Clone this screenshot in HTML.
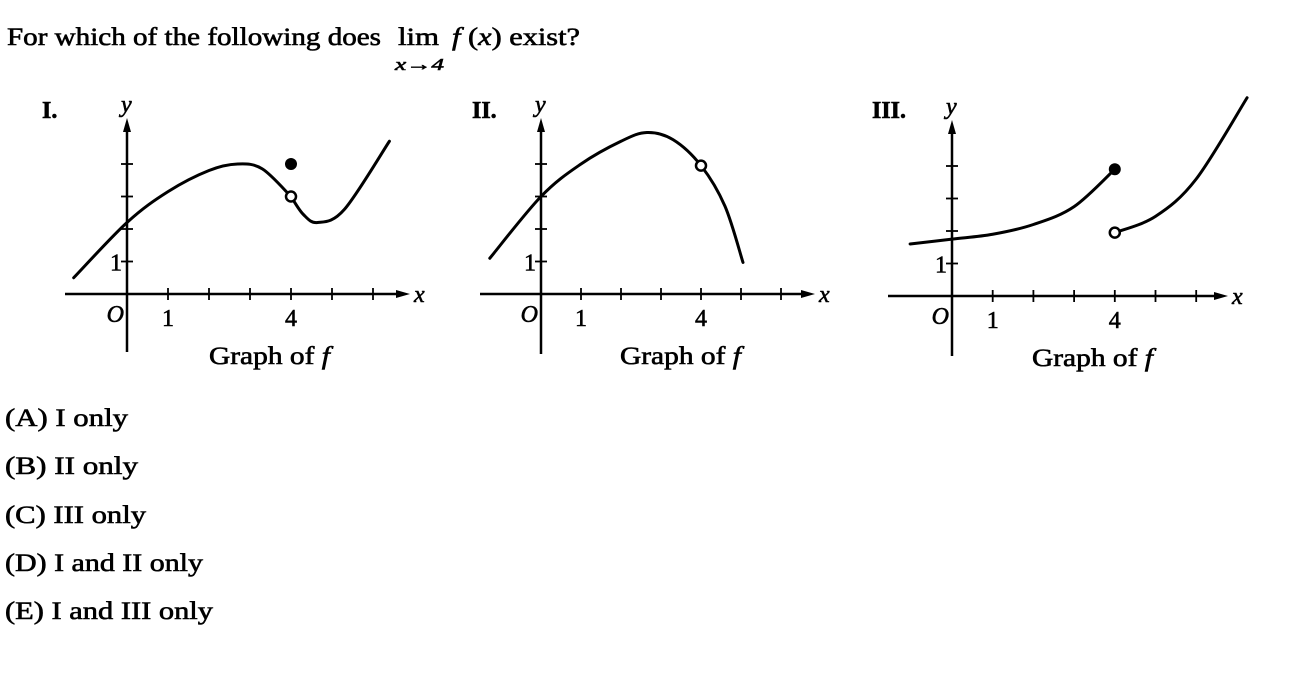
<!DOCTYPE html>
<html><head><meta charset="utf-8"><style>
html,body{margin:0;padding:0;background:#fff}
svg{display:block}
text{font-family:"Liberation Serif",serif;fill:#000;stroke:#000;stroke-width:0.6}
</style></head><body>
<svg id="s" width="1303" height="691" viewBox="0 0 1303 691">
<text x="7" y="45" font-size="25" textLength="374" lengthAdjust="spacingAndGlyphs">For which of the following does</text>
<text x="398" y="45" font-size="25" textLength="41" lengthAdjust="spacingAndGlyphs">lim</text>
<text x="395" y="70" font-size="17" font-style="italic" textLength="49" lengthAdjust="spacingAndGlyphs">x→4</text>
<text x="452" y="45" font-size="25" textLength="128" lengthAdjust="spacingAndGlyphs"><tspan font-style="italic">f</tspan> (<tspan font-style="italic">x</tspan>) exist?</text>
<g id="choices">
<text x="5" y="426" font-size="25" textLength="123" lengthAdjust="spacingAndGlyphs">(A)  I only</text>
<text x="5" y="474" font-size="25" textLength="133" lengthAdjust="spacingAndGlyphs">(B)  II only</text>
<text x="5" y="523" font-size="25" textLength="141" lengthAdjust="spacingAndGlyphs">(C)  III only</text>
<text x="5" y="571" font-size="25" textLength="198" lengthAdjust="spacingAndGlyphs">(D)  I and II only</text>
<text x="5" y="619" font-size="25" textLength="208" lengthAdjust="spacingAndGlyphs">(E)  I and III only</text>
</g>
</svg>
<script>
// Graph I data (x, y in graph units)
const curveI = [[-1.3,0.5],[0,2.2],[1,3.15],[2,3.8],[2.7,4.0],[3.3,3.85],[4,3.0]];
const curveI2 = [[4,3.0],[4.3,2.45],[4.65,2.2],[5.3,2.6],[6.4,4.7]];
const holesI = [[4,3.0]];
const dotsI = [[4,4.0]];
// Graph II data
const curveII = [[-1.28,1.1],[0,3.0],[1,4.0],[2,4.7],[2.65,4.97],[3.3,4.75],[4,3.95],[4.6,2.7],[5.05,0.97]];
const holesII = [[4,3.95]];
const dotsII = [];
// Graph III data
const curveIII = [[-1.03,1.6],[0,1.75],[1,1.9],[2,2.2],[3,2.75],[4,3.9]];
const curveIII2 = [[4,1.95],[5,2.45],[6,3.6],[7.25,6.1]];
const holesIII = [[4,1.95]];
const dotsIII = [[4,3.9]];
const xTickLabels = ["1","4"];
const xTickValues = [1,4];

const svg = document.getElementById('s');
const NS = 'http://www.w3.org/2000/svg';
function mk(tag, attrs, parent){const e=document.createElementNS(NS,tag);for(const k in attrs)e.setAttribute(k,attrs[k]);(parent||svg).appendChild(e);return e;}

const graphs = [
 {name:'graph-i', ox:127, oy:294, ux:41, uy:32.5, xl:65, xr:410, yt:118, yb:352, curves:[curveI,curveI2], holes:holesI, dots:dotsI, roman:'I.', rx:42, lx:209},
 {name:'graph-ii', ox:541, oy:294, ux:40, uy:32.5, xl:480, xr:815, yt:118, yb:354, curves:[curveII], holes:holesII, dots:dotsII, roman:'II.', rx:472, lx:620},
 {name:'graph-iii', ox:952, oy:296, ux:40.7, uy:32.5, xl:888, xr:1228, yt:120, yb:356, curves:[curveIII,curveIII2], holes:holesIII, dots:dotsIII, roman:'III.', rx:872, lx:1032}
];

function pathFor(pts, sx, sy){
  const P = pts.map(p=>[sx(p[0]), sy(p[1])]);
  let d = 'M'+P[0][0]+','+P[0][1];
  for(let i=0;i<P.length-1;i++){
    const p0=P[i-1]||P[i], p1=P[i], p2=P[i+1], p3=P[i+2]||P[i+1];
    const c1=[p1[0]+(p2[0]-p0[0])/6, p1[1]+(p2[1]-p0[1])/6];
    const c2=[p2[0]-(p3[0]-p1[0])/6, p2[1]-(p3[1]-p1[1])/6];
    d+=' C'+c1[0]+','+c1[1]+' '+c2[0]+','+c2[1]+' '+p2[0]+','+p2[1];
  }
  return d;
}

graphs.forEach(g=>{
  const G = mk('g',{});
  
  
  const sx = v=>g.ox+v*g.ux, sy = v=>g.oy-v*g.uy;
  const xa = mk('line',{x1:g.xl,y1:g.oy,x2:g.xr-8,y2:g.oy,stroke:'#000','stroke-width':2.5},G);
  
  
  mk('polygon',{points:`${g.xr},${g.oy} ${g.xr-14},${g.oy-4} ${g.xr-14},${g.oy+4}`,fill:'#000'},G);
  const ya = mk('line',{x1:g.ox,y1:g.yb,x2:g.ox,y2:g.yt+8,stroke:'#000','stroke-width':2.5},G);
  
  
  mk('polygon',{points:`${g.ox},${g.yt} ${g.ox-4},${g.yt+14} ${g.ox+4},${g.yt+14}`,fill:'#000'},G);
  for(let i=1;i<=6;i++){ if(sx(i)<g.xr-15) mk('line',{x1:sx(i),y1:g.oy-6,x2:sx(i),y2:g.oy+6,stroke:'#000','stroke-width':1.8},G); }
  for(let i=1;i<=4;i++){ mk('line',{x1:g.ox-6,y1:sy(i),x2:g.ox+6,y2:sy(i),stroke:'#000','stroke-width':1.8},G); }
  xTickLabels.forEach((t,i)=>{
    const tl = mk('text',{x:sx(xTickValues[i]),y:g.oy+32,'font-size':24,'text-anchor':'middle'},G);
    tl.textContent=t;
    
    
  });
  const one = mk('text',{x:g.ox-5,y:sy(1)+9,'font-size':24,'text-anchor':'end'},G); one.textContent='1';
  
  
  const o = mk('text',{x:g.ox-3,y:g.oy+28,'font-size':24,'font-style':'italic','text-anchor':'end'},G); o.textContent='O';
  
  
  const xl = mk('text',{x:g.xr+4,y:g.oy+8,'font-size':24,'font-style':'italic'},G); xl.textContent='x';
  
  
  const yl = mk('text',{x:g.ox-6,y:g.yt-6,'font-size':24,'font-style':'italic'},G); yl.textContent='y';
  
  
  const r = mk('text',{x:g.rx,y:118,'font-size':24,'font-weight':'bold'},G); r.textContent=g.roman;
  
  
  const cap = mk('text',{x:g.lx,y:g.oy+70,'font-size':25,textLength:121,lengthAdjust:'spacingAndGlyphs'},G);
  cap.innerHTML='Graph of <tspan font-style="italic">f</tspan>';
  
  
  g.curves.forEach(c=>{
    const p = mk('path',{d:pathFor(c,sx,sy),fill:'none',stroke:'#000','stroke-width':3,'stroke-linecap':'round'},G);
    
    
  });
  g.holes.forEach(h=>{
    const c = mk('circle',{cx:sx(h[0]),cy:sy(h[1]),r:5,fill:'#fff',stroke:'#000','stroke-width':2.5},G);
    
    
  });
  g.dots.forEach(h=>{
    const c = mk('circle',{cx:sx(h[0]),cy:sy(h[1]),r:6,fill:'#000'},G);
    
    
  });
});
</script>
</body></html>
